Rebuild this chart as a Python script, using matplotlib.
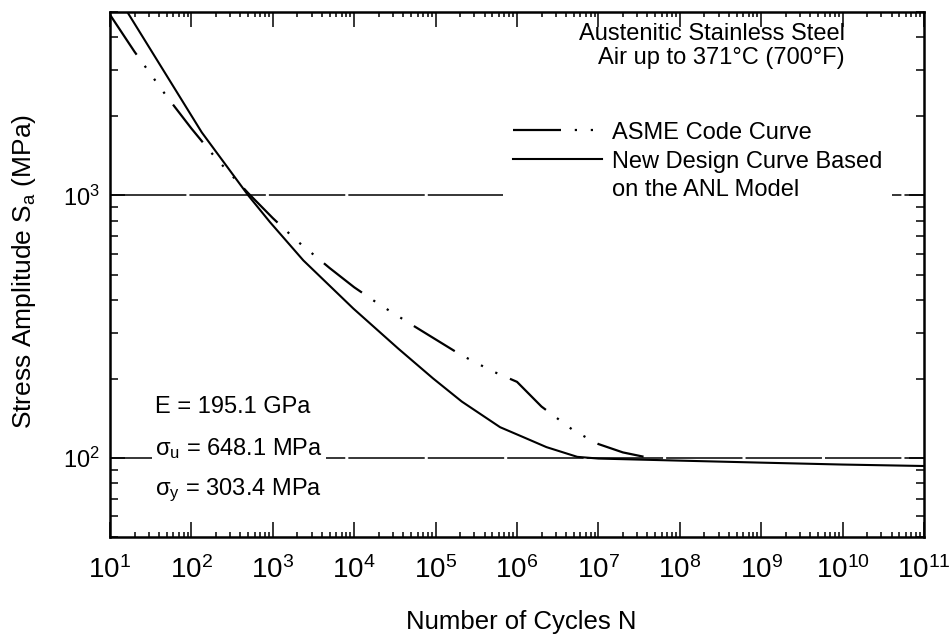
import matplotlib
matplotlib.use('Agg')
import matplotlib.pyplot as plt
from matplotlib.lines import Line2D
from matplotlib.ticker import LogLocator, NullFormatter

plt.rcParams['font.family'] = 'Liberation Sans'
plt.rcParams['mathtext.fontset'] = 'custom'
plt.rcParams['mathtext.rm'] = 'Liberation Sans'
plt.rcParams['mathtext.it'] = 'Liberation Sans:italic'
plt.rcParams['mathtext.default'] = 'regular'

# ASME code curve
asme_cycles = [1e1, 2e1, 5e1, 1e2, 2e2, 5e2, 1e3, 2e3, 5e3, 1e4, 2e4, 5e4,
               1e5, 2e5, 5e5, 1e6, 2e6, 5e6, 1e7, 2e7, 5e7]
asme_stress = [4881, 3530, 2379, 1800, 1386, 1020, 820, 670, 529, 447, 386, 323,
               283, 248, 214, 195, 157, 127, 113, 105, 99]

# new design curve based on the ANL model
anl_cycles = [1e1, 16, 134, 500, 925, 2370, 9750, 3.48e4, 9.3e4, 2.1e5, 6.2e5,
              1.2e6, 2.3e6, 5.5e6, 1e7, 1e8, 1e9, 1e10, 1e11]
anl_stress = [6300, 5050, 1740, 1000, 791, 566, 371, 261, 201, 164, 131,
              120, 110, 101, 99.5, 97.7, 96.0, 94.4, 93.2]

props = ['E = 195.1 GPa', r'$\sigma_u$ = 648.1 MPa', r'$\sigma_y$ = 303.4 MPa']

fig = plt.figure(figsize=(9.51, 6.37), dpi=100)
ax = fig.add_axes([110 / 951, 1 - 537 / 637, 814 / 951, 525 / 637])

asme_ls = (0, (21.6, 6.2, 1, 6.2, 1, 6.2, 1, 6.2))
l1, = ax.plot(asme_cycles, asme_stress, color='black', lw=1.6, linestyle=asme_ls)
l2, = ax.plot(anl_cycles, anl_stress, color='black', lw=1.5)

ax.set_xscale('log')
ax.set_yscale('log')
ax.set_xlim(1e1, 1e11)
ax.set_ylim(50, 5000)

ax.xaxis.set_major_locator(LogLocator(base=10, numticks=20))
ax.xaxis.set_minor_locator(LogLocator(base=10, subs=range(2, 10), numticks=20))
ax.xaxis.set_minor_formatter(NullFormatter())
ax.yaxis.set_minor_formatter(NullFormatter())

ax.yaxis.grid(True, which='major', color='black', lw=1.1, linestyle=(0, (50, 2)))

for s in ax.spines.values():
    s.set_linewidth(1.8)
ax.tick_params(which='both', direction='in', top=True, right=True, width=1.1)
ax.tick_params(axis='x', which='major', length=11, labelsize=20, pad=14)
ax.tick_params(axis='x', which='minor', length=3.6)
ax.tick_params(axis='y', which='major', length=11, labelsize=17, pad=7)
ax.tick_params(axis='y', which='minor', length=5.8)

ax.set_xlabel('Number of Cycles N', fontsize=18.5)
ax.set_ylabel('Stress Amplitude S$_a$ (MPa)', fontsize=19)
ax.xaxis.set_label_coords(0.5055, -0.140)
ax.yaxis.set_label_coords(-0.088, 0.506)

ax.text(0.903, 0.901, 'Austenitic Stainless Steel\nAir up to 371°C (700°F)',
        transform=ax.transAxes, ha='right', va='baseline', fontsize=17,
        multialignment='right', linespacing=1.1)

handles = [l1, l2, Line2D([], [], color='none')]
labels = ['ASME Code Curve', 'New Design Curve Based', 'on the ANL Model']
ax.legend(handles, labels, loc='upper left', bbox_to_anchor=(0.483, 0.809),
          fontsize=17, frameon=True, fancybox=False, edgecolor='none',
          facecolor='white', framealpha=1, handlelength=3.8, handletextpad=0.42,
          labelspacing=0.29, borderpad=0.4, borderaxespad=0)

ys = [0.2356, 0.156, 0.080]
for txt, y in zip(props, ys):
    ax.text(0.0553, y, txt, transform=ax.transAxes, fontsize=17, va='baseline',
            bbox=dict(facecolor='white', edgecolor='none', pad=2))

fig.savefig('out.png', dpi=100)
